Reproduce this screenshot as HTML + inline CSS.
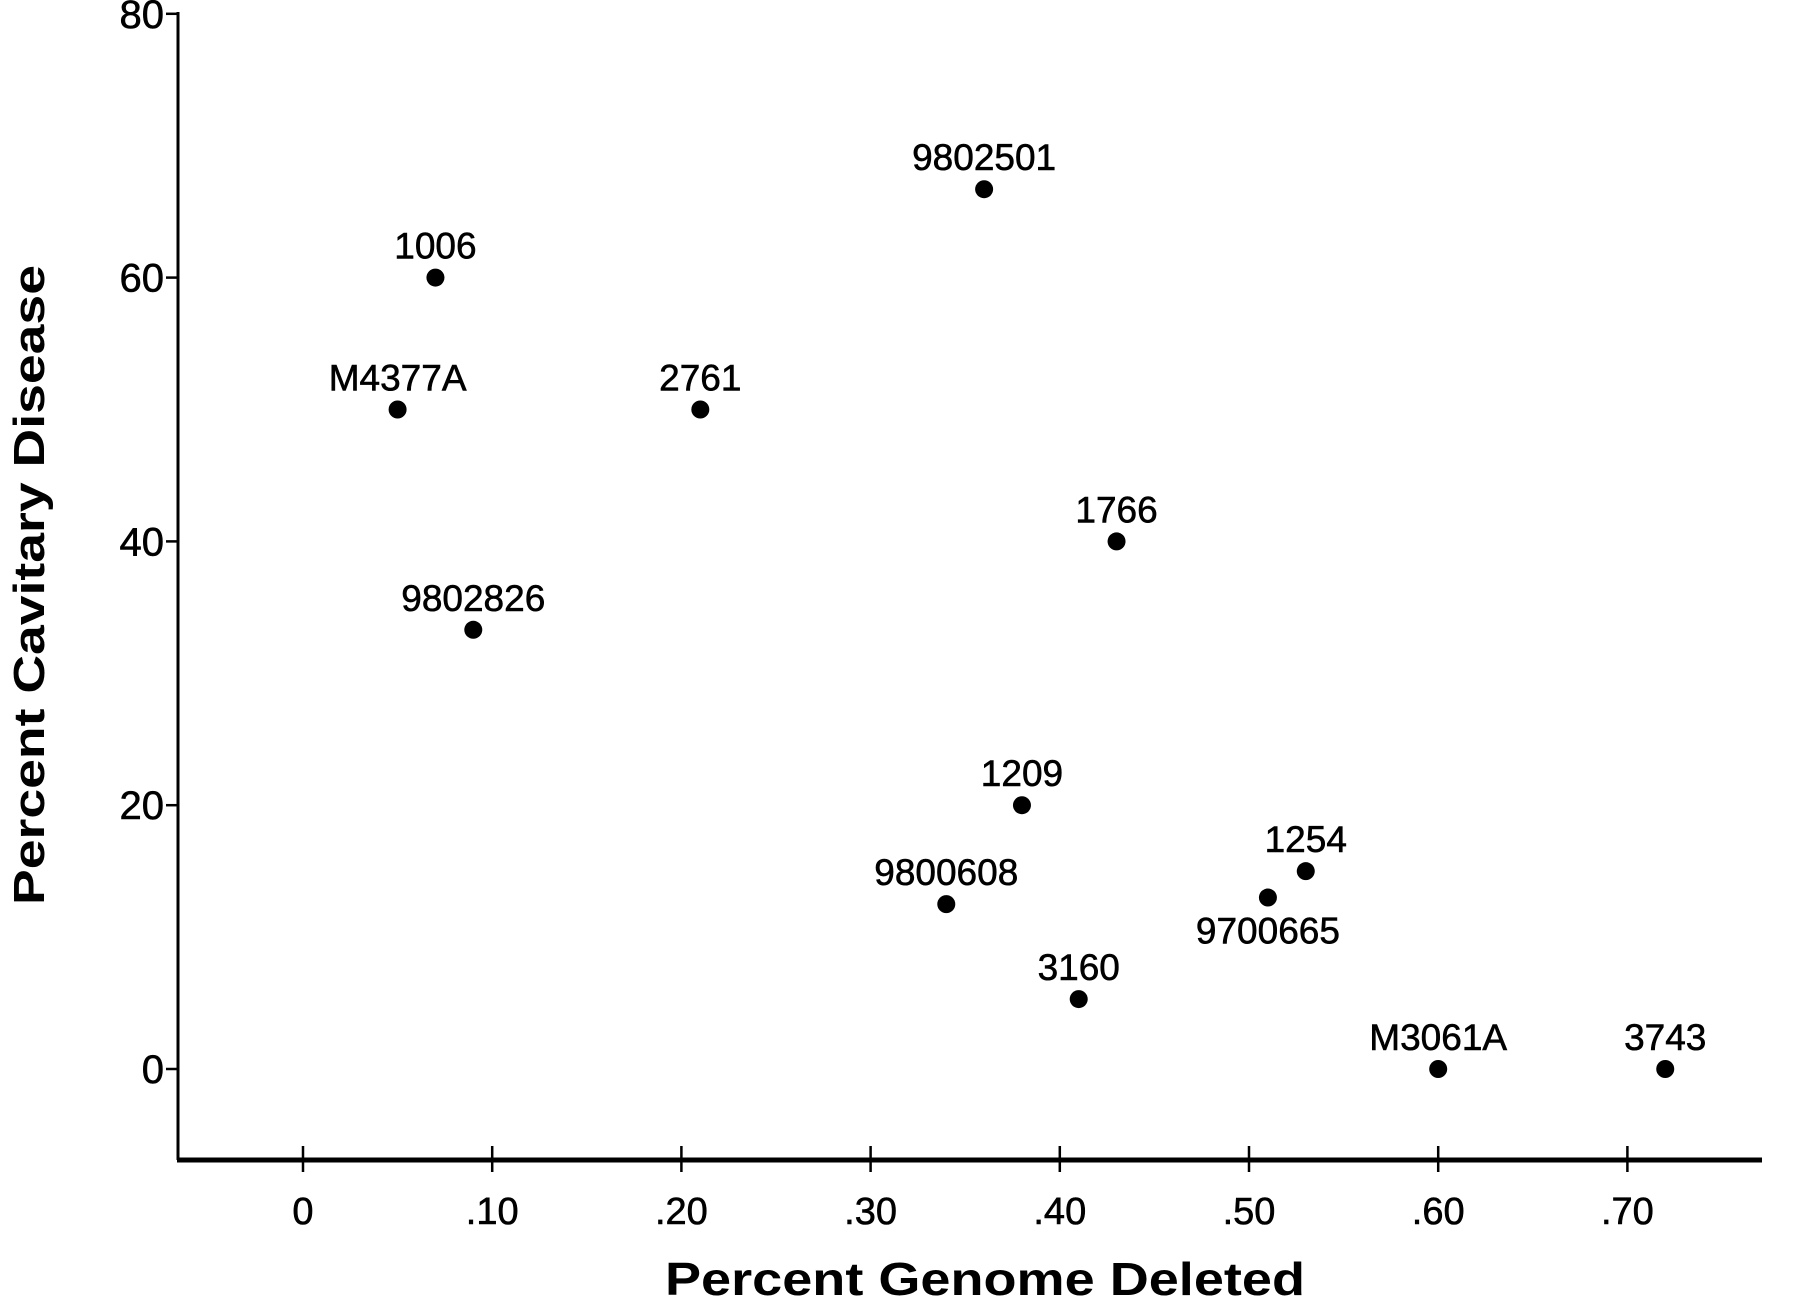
<!DOCTYPE html>
<html><head><meta charset="utf-8"><style>
html,body{margin:0;padding:0;background:#fff;}
svg{display:block;font-family:"Liberation Sans",Arial,sans-serif;}
</style></head><body>
<svg id="chart" width="1800" height="1304" viewBox="0 0 1800 1304" xmlns="http://www.w3.org/2000/svg"></svg>
<script>
const labels = ["M4377A","1006","9802826","2761","9802501","1766","1209","9800608","3160","9700665","1254","M3061A","3743"];
const xValues = [0.05,0.07,0.09,0.21,0.36,0.43,0.38,0.34,0.41,0.51,0.53,0.60,0.72];
const yValues = [50,60,33.3,50,66.7,40,20,12.5,5.3,13,15,0,0];
const xTicks = [0,0.1,0.2,0.3,0.4,0.5,0.6,0.7];
const xTickLabels = ["0",".10",".20",".30",".40",".50",".60",".70"];
const yTicks = [0,20,40,60,80];
const yTickLabels = ["0","20","40","60","80"];
const below = ["9700665"];

const NS="http://www.w3.org/2000/svg";
const svg=document.getElementById('chart');
function X(v){return 303+v*1892;}
function Y(v){return 1069-v*13.19;}
function mk(tag,attrs,parent){const e=document.createElementNS(NS,tag);for(const k in attrs)e.setAttribute(k,attrs[k]);(parent||svg).appendChild(e);return e;}

const axes=mk('g',{});


const yAxis=mk('line',{x1:178,y1:12,x2:178,y2:1160,stroke:'#000','stroke-width':3},axes);


const xAxis=mk('line',{x1:177,y1:1160,x2:1762,y2:1160,stroke:'#000','stroke-width':5},axes);



yTicks.forEach((t,i)=>{
  const tk=mk('line',{x1:166,y1:Y(t),x2:178,y2:Y(t),stroke:'#000','stroke-width':2.5},axes);
  
  
  const tl=mk('text',{x:164,y:Y(t)+14,'text-anchor':'end','font-size':40,stroke:'#000','stroke-width':0.6},axes);
  tl.textContent=yTickLabels[i];
  
  
});
xTicks.forEach((t,i)=>{
  const tk=mk('line',{x1:X(t),y1:1146,x2:X(t),y2:1172,stroke:'#000','stroke-width':2.5},axes);
  
  
  const tl=mk('text',{x:X(t),y:1224,'text-anchor':'middle','font-size':38,stroke:'#000','stroke-width':0.6},axes);
  tl.textContent=xTickLabels[i];
  
  
});

const xt=mk('text',{x:985,y:1295,'text-anchor':'middle','font-size':46,'font-weight':'bold',textLength:640,lengthAdjust:'spacingAndGlyphs'});
xt.textContent='Percent Genome Deleted';


const yt=mk('text',{x:0,y:0,'text-anchor':'middle','font-size':44,'font-weight':'bold',textLength:640,lengthAdjust:'spacingAndGlyphs',transform:'translate(44,585) rotate(-90)'});
yt.textContent='Percent Cavitary Disease';



const pts=mk('g',{});


labels.forEach((lab,i)=>{
  const cx=X(xValues[i]),cy=Y(yValues[i]);
  const c=mk('circle',{cx:cx,cy:cy,r:9,fill:'#000'},pts);
  
  
  const ty=below.includes(lab)?cy+46:cy-19;
  const t=mk('text',{x:cx,y:ty,'text-anchor':'middle','font-size':37,stroke:'#000','stroke-width':0.6},pts);
  t.textContent=lab;
  
  
});
</script>
</body></html>
